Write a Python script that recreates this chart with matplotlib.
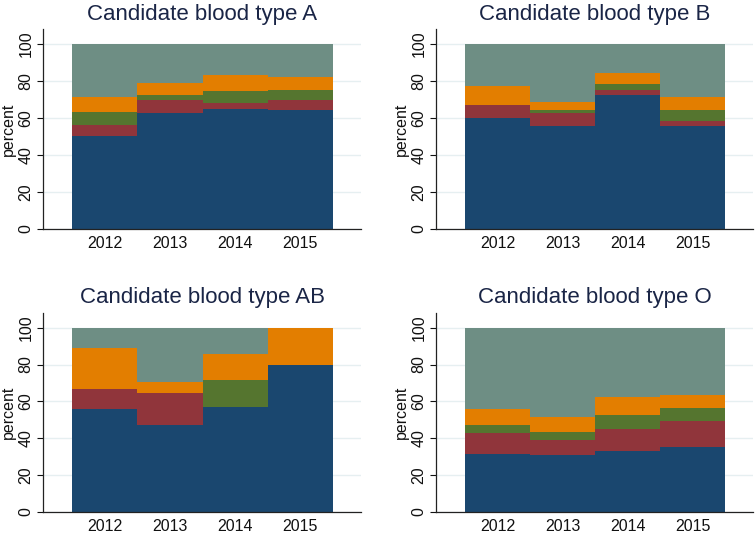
import numpy as np
import matplotlib
matplotlib.use("Agg")
import matplotlib.pyplot as plt

plt.rcParams['font.family'] = ['Liberation Sans', 'DejaVu Sans']

years = [2012, 2013, 2014, 2015]
titles = ["Candidate blood type A", "Candidate blood type B",
          "Candidate blood type AB", "Candidate blood type O"]

# stacked shares (percent), bottom to top
type_a = [
    [50.4, 62.6, 64.9, 64.6],
    [6.0, 7.4, 3.3, 5.4],
    [7.1, 2.5, 6.7, 5.4],
    [8.1, 6.5, 8.3, 6.7],
    [28.4, 21.0, 16.8, 17.9],
]
type_b = [
    [60.2, 55.5, 72.3, 55.9],
    [7.1, 7.2, 3.1, 2.7],
    [0.0, 1.9, 3.1, 5.6],
    [10.1, 4.1, 5.6, 7.0],
    [22.6, 31.3, 15.9, 28.8],
]
type_ab = [
    [55.6, 47.1, 57.1, 80.0],
    [11.1, 17.6, 0.0, 0.0],
    [0.0, 0.0, 14.3, 0.0],
    [22.2, 5.9, 14.3, 20.0],
    [11.1, 29.4, 14.3, 0.0],
]
type_o = [
    [31.4, 30.9, 33.2, 35.0],
    [11.2, 8.1, 11.9, 14.5],
    [4.5, 4.1, 7.2, 6.6],
    [8.9, 8.2, 9.8, 7.6],
    [44.0, 48.7, 37.9, 36.3],
]

# stata s2color palette
colors = ['#1a476f', '#90353b', '#55752f', '#e37e00', '#6e8e84']
GRID = '#e6eff1'
TITLE = '#1a2546'

W, H = 756, 534
fig = plt.figure(figsize=(W / 100, H / 100), dpi=100)

# axes boxes in pixels: left, right, top, bottom
boxes = [(43, 361, 29.3, 229), (436, 753, 29.3, 229),
         (43, 361, 313, 511.7), (436, 753, 313, 511.7)]

for data, title, (l, r, t, b) in zip([type_a, type_b, type_ab, type_o], titles, boxes):
    ax = fig.add_axes([l / W, 1 - b / H, (r - l) / W, (b - t) / H])
    bottom = np.zeros(len(years))
    for vals, c in zip(data, colors):
        ax.bar(years, vals, width=1.0, bottom=bottom, color=c, linewidth=0, zorder=2)
        bottom += np.array(vals)

    ax.set_xlim(2011.05, 2015.93)
    ax.set_ylim(0, 108)
    ax.set_yticks([0, 20, 40, 60, 80, 100])
    ax.set_xticks(years)
    ax.set_xticklabels([str(y) for y in years])
    ax.yaxis.grid(True, color=GRID, linewidth=1, zorder=0)
    ax.set_axisbelow(True)
    for s in ['top', 'right']:
        ax.spines[s].set_visible(False)
    for s in ['left', 'bottom']:
        ax.spines[s].set_color('#222222')
        ax.spines[s].set_linewidth(0.9)
    ax.tick_params(axis='x', length=0, labelsize=11.5, pad=5, colors='#111111')
    ax.tick_params(axis='y', length=4.5, width=0.8, labelsize=11.5, pad=2.5, colors='#111111')
    for lab in ax.get_yticklabels():
        lab.set_rotation(90)
        lab.set_va('center')
    ax.set_ylabel('percent', fontsize=11.5, labelpad=2, color='#111111')
    ax.set_title(title, fontsize=16, color=TITLE, pad=7)

fig.savefig('out.png', dpi=100)
